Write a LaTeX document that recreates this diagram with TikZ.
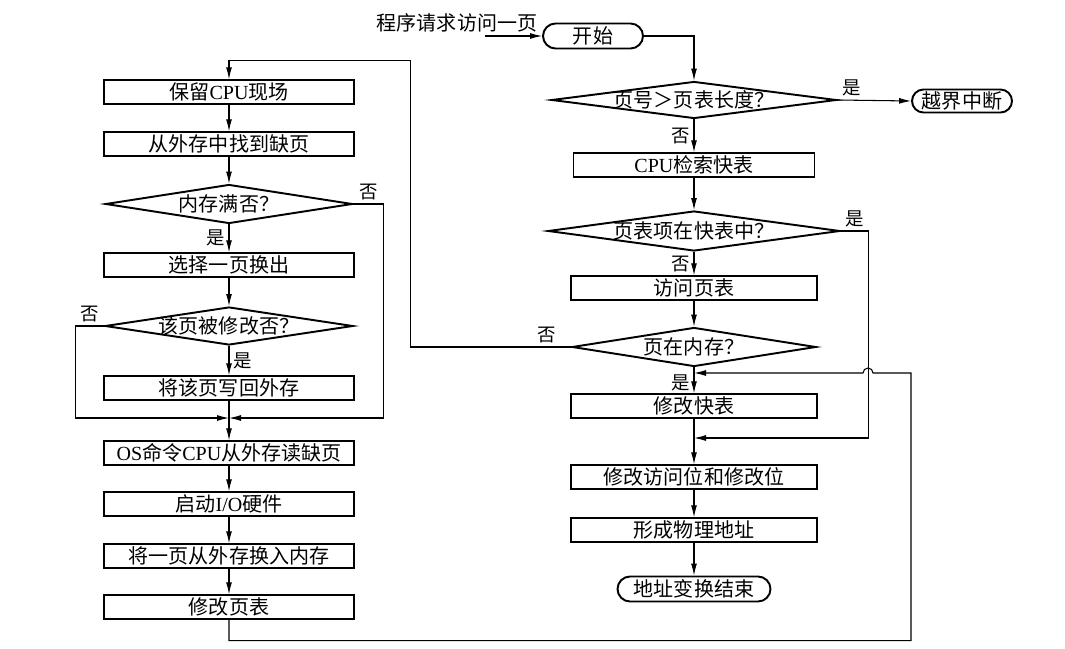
\documentclass[tikz,border=0pt]{standalone}
\usepackage{fontspec}
\setmainfont{Liberation Serif}
\newfontfamily\cjk{Noto Sans CJK SC}
\usetikzlibrary{arrows.meta,shapes.geometric,shapes.misc}
\tikzset{
  box/.style={
    rectangle, draw, line width=1.1pt,
    minimum width=5cm, minimum height=0.47cm,
    inner sep=0pt
  },
  dec/.style={
    diamond, draw, line width=1.1pt, inner sep=0pt
  },
  term/.style={
    rounded rectangle, draw, line width=1.1pt,
    minimum height=0.5cm, inner sep=0pt
  },
  flow/.style={-{Latex[length=2.4mm,width=1.2mm]}, line width=0.6pt},
  lab/.style={font=\cjk\fontsize{10.5}{12}\selectfont, inner sep=2pt}
}
\begin{document}
\begin{tikzpicture}[x=0.02cm,y=-0.02cm,font=\cjk\fontsize{11.4}{13}\selectfont]
  \useasboundingbox (0,0) rectangle (1065,649);

  % right column: address translation
  \node (req) at (457,23) {程序请求访问一页};
  \coordinate (in) at (485,36);
  \node[term, minimum width=2cm] (start) at (593,36) {开始};
  \node[dec, minimum width=5.7cm, minimum height=0.74cm,
        label=center:{页号＞页表长度？}] (dlen) at (694,100) {};
  \node[term, minimum width=2cm, minimum height=0.46cm] (over) at (962,101) {越界中断};
  \node[box, minimum width=4.82cm] (cpu) at (694,165) {{\rmfamily CPU}检索快表};
  \node[dec, minimum width=5.84cm, minimum height=0.8cm,
        label=center:{页表项在快表中？}] (dtlb) at (694,231) {};
  \node[box, minimum width=4.92cm] (visit) at (694,288) {访问页表};
  \node[dec, minimum width=4.88cm, minimum height=0.78cm,
        label=center:{页在内存？}] (dmem) at (694,347) {};
  \node[box, minimum width=4.92cm] (fixtlb) at (694,406) {修改快表};
  \node[box, minimum width=4.92cm] (bits) at (694,477) {修改访问位和修改位};
  \node[box, minimum width=4.92cm] (phys) at (694,530) {形成物理地址};
  \node[term, minimum width=3.06cm] (done) at (694,589) {地址变换结束};
  \coordinate (join1) at (694,373);
  \coordinate (join2) at (694,438);

  % left column: page fault handling
  \node[box] (keep) at (229,92) {保留{\rmfamily CPU}现场};
  \node[box] (find) at (229,144) {从外存中找到缺页};
  \node[dec, minimum width=4.94cm, minimum height=0.78cm,
        label=center:{内存满否？}] (dfull) at (229,204) {};
  \node[box] (swap) at (229,265) {选择一页换出};
  \node[dec, minimum width=4.96cm, minimum height=0.76cm,
        label=center:{该页被修改否？}] (dmod) at (229,326) {};
  \node[box] (wback) at (229,388) {将该页写回外存};
  \node[box] (rd) at (229,453) {{\rmfamily OS}命令{\rmfamily CPU}从外存读缺页};
  \node[box] (io) at (229,504) {启动{\rmfamily I/O}硬件};
  \node[box] (swin) at (229,556) {将一页从外存换入内存};
  \node[box] (fixpt) at (229,607) {修改页表};
  \coordinate (ljoin) at (229,418);

  % arrows, right
  \draw[flow] (in) -- (start.west);
  \draw[flow] (start.east) -| (dlen.north);
  \draw[flow] (dlen.east) -- node[lab,above,pos=0.2]{是} (over.west);
  \draw[flow] (dlen.south) -- node[lab,left]{否} (cpu.north);
  \draw[flow] (cpu.south) -- (dtlb.north);
  \draw[flow] (dtlb.south) -- node[lab,left]{否} (visit.north);
  \draw[flow] (visit.south) -- (dmem.north);
  \draw[flow] (dmem.south) -- node[lab,left,pos=0.6]{是} (fixtlb.north);
  \draw[flow] (fixtlb.south) -- (bits.north);
  \draw[flow] (bits.south) -- (phys.north);
  \draw[flow] (phys.south) -- (done.north);
  \draw[flow] (dtlb.east) -- node[lab,above]{是} ++(28,0) |- (join2);

  % arrows, left
  \draw[flow] (keep.south) -- (find.north);
  \draw[flow] (find.south) -- (dfull.north);
  \draw[flow] (dfull.south) -- node[lab,left]{是} (swap.north);
  \draw[flow] (swap.south) -- (dmod.north);
  \draw[flow] (dmod.south) -- node[lab,right]{是} (wback.north);
  \draw[flow] (wback.south) -- (rd.north);
  \draw[flow] (rd.south) -- (io.north);
  \draw[flow] (io.south) -- (swin.north);
  \draw[flow] (swin.south) -- (fixpt.north);
  \draw[flow] (dfull.east) -- node[lab,above]{否} ++(30,0) |- (ljoin);
  \draw[flow] (dmod.west) -- node[lab,above]{否} ++(-29,0) |- (ljoin);

  % page not in memory: go to fault handling
  \draw[flow] (dmem.west) -- node[lab,above,pos=0.15]{否} ++(-161,0)
    |- ([yshift=0.37cm]keep.north) -- (keep.north);
  % back after the page table is updated
  \draw[flow] (fixpt.south) -- ++(0,21) -| (911,373) -- (873,373)
    arc[start angle=0,end angle=180,radius=0.1cm] -- (join1);
\end{tikzpicture}
\end{document}
